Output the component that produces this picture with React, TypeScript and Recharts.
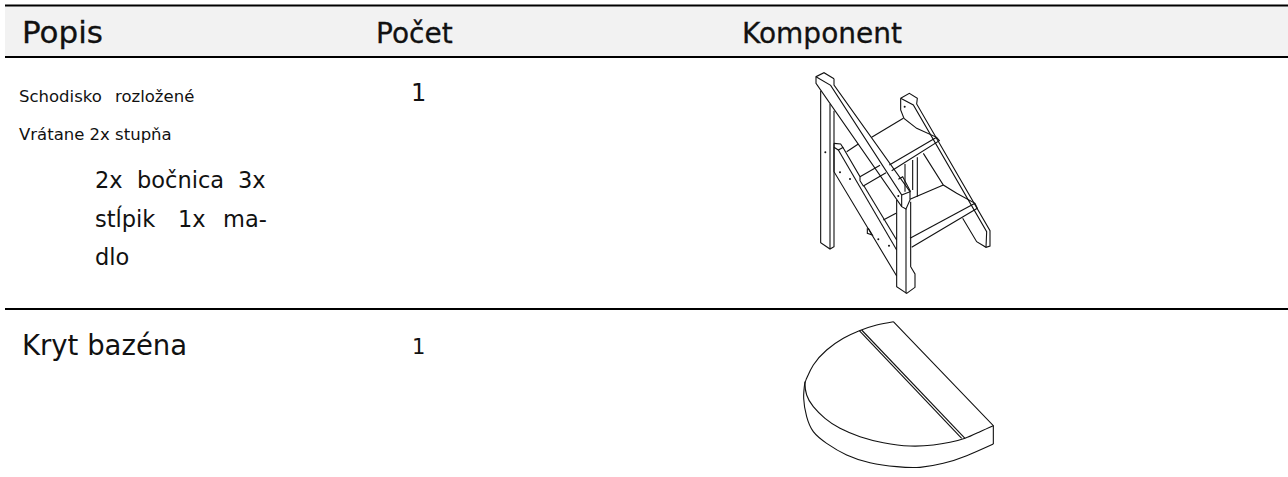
/**
 * Parts table: header band, two rows, two isometric line drawings.
 * Everything sits in hidden-axis charts so the marks go through the scales.
 */
import { ComposedChart, Line, Scatter, XAxis, YAxis, ReferenceLine, ReferenceArea } from "recharts";

type Pt = [number, number];
type Lbl = { x: number; y: number; text: string };

// table text, baseline positions
const popisLabel: Lbl[] = [{ x: 22, y: 43, text: "Popis" }];
const headerLabels: Lbl[] = [
  { x: 376, y: 43, text: "Počet" },
  { x: 742, y: 43, text: "Komponent" },
];
const smallLabels: Lbl[] = [
  { x: 19, y: 102, text: "Schodisko" },
  { x: 115, y: 102, text: "rozložené" },
  { x: 19, y: 140, text: "Vrátane 2x stupňa" },
];
const bodyLabels: Lbl[] = [
  { x: 95, y: 188, text: "2x" },
  { x: 137, y: 188, text: "bočnica" },
  { x: 238, y: 188, text: "3x" },
  { x: 95, y: 227, text: "stĺpik" },
  { x: 178, y: 227, text: "1x" },
  { x: 223, y: 227, text: "ma-" },
  { x: 95, y: 265, text: "dlo" },
];
const firstCount: Lbl[] = [{ x: 411, y: 101, text: "1" }];
const secondCount: Lbl[] = [{ x: 412, y: 354, text: "1" }];
const rowTitle: Lbl[] = [{ x: 22, y: 355, text: "Kryt bazéna" }];

const ruleRows = [5.5, 57, 309];
const headerBand = [6, 56];

// stairs, in 1/3 px units of its own box
const stairLines: Pt[][] = [
  [[222, 56], [192, 38], [168, 50], [168, 70], [425, 440], [438, 447], [450, 420], [450, 395], [222, 75], [222, 56]],
  [[168, 50], [212, 76], [425, 405], [425, 440]],
  [[425, 405], [450, 395]],
  [[415, 358], [428, 350], [452, 395]],
  [[182, 92], [182, 548], [210, 567], [222, 560], [222, 152]],
  [[210, 132], [210, 567]],
  [[410, 420], [410, 680], [440, 700], [465, 682], [465, 642], [452, 620], [452, 425]],
  [[438, 447], [438, 700]],
  [[222, 250], [242, 252], [252, 268], [300, 350], [300, 362], [310, 378], [378, 338]],
  [[300, 350], [360, 316]],
  [[222, 250], [222, 335], [410, 648]],
  [[235, 270], [410, 570]],
  [[222, 262], [235, 270], [250, 262]],
  [[312, 378], [410, 540]],
  [[260, 275], [295, 252]],
  [[335, 232], [430, 175]],
  [[422, 115], [448, 100], [472, 115], [470, 132], [690, 512], [690, 558], [678, 562], [650, 545], [608, 475]],
  [[422, 115], [460, 135], [680, 515], [678, 562]],
  [[422, 115], [422, 150], [432, 175], [470, 205], [530, 232], [538, 242], [395, 332]],
  [[530, 232], [388, 315]],
  [[490, 280], [550, 375], [590, 400], [645, 430], [652, 445], [455, 562]],
  [[645, 430], [450, 535]],
  [[450, 418], [550, 375]],
  [[370, 480], [408, 460]],
  [[435, 312], [435, 395]],
  [[458, 300], [458, 390]],
  [[472, 292], [472, 410]],
  [[322, 505], [322, 520], [337, 525], [325, 505]],
];
const stairDots: Pt[] = [[196, 277], [240, 337], [270, 357], [434, 140], [415, 408], [355, 538], [387, 557]];

// pool cover, same idea
const coverArcs: Pt[][] = [
  [[340, 35], [290, 45], [238, 62], [190, 85], [140, 120], [100, 165], [80, 205], [75, 222], [80, 255], [100, 290], [135, 325], [180, 355], [240, 380], [310, 398], [390, 408], [460, 405], [510, 397], [555, 385], [600, 365], [640, 347]],
  [[75, 215], [71, 265], [80, 320], [100, 365], [140, 400], [200, 435], [270, 458], [350, 470], [420, 472], [490, 460], [560, 437], [640, 402]],
];
const coverLines: Pt[][] = [
  [[340, 35], [640, 347], [640, 402]],
  [[238, 62], [545, 385]],
  [[245, 60], [555, 385]],
];

const toPts = (l: Pt[]) => l.map(([x, y]) => ({ x, y }));
const FONT = "'DejaVu Sans', sans-serif";
const INK = "#111";

function textShape(fontSize: number, extra: Record<string, unknown> = {}) {
  return (p: any) => (
    <text x={p.cx} y={p.cy} fontSize={fontSize} fontFamily={FONT} fill={INK} {...extra}>
      {p.payload.text}
    </text>
  );
}

function Drawing({ left, top, w, h, lines, arcs = [], dots }: { left: number; top: number; w: number; h: number; lines: Pt[][]; arcs?: Pt[][]; dots?: Pt[] }) {
  return (
    <div style={{ position: "absolute", left, top }}>
      <ComposedChart width={w} height={h} margin={{ top: 0, right: 0, bottom: 0, left: 0 }}>
        <XAxis hide type="number" dataKey="x" domain={[0, w * 3]} />
        <YAxis hide type="number" dataKey="y" domain={[0, h * 3]} reversed />
        {lines.map((l, i) => (
          <Line key={i} data={toPts(l)} dataKey="y" type="linear" stroke={INK} strokeWidth={1.1} dot={false} isAnimationActive={false} />
        ))}
        {arcs.map((l, i) => (
          <Line key={"a" + i} data={toPts(l)} dataKey="y" type="natural" stroke={INK} strokeWidth={1.1} dot={false} isAnimationActive={false} />
        ))}
        {dots && (
          <Scatter data={toPts(dots)} isAnimationActive={false}
            shape={(p: any) => <circle cx={p.cx} cy={p.cy} r={1} fill={INK} />} />
        )}
      </ComposedChart>
    </div>
  );
}

export default function App() {
  return (
    <div style={{ position: "absolute", left: 0, top: 0, width: 1288, height: 477, background: "#fff" }}>
      <ComposedChart width={1288} height={477} margin={{ top: 0, right: 0, bottom: 0, left: 0 }}>
        <XAxis hide type="number" dataKey="x" domain={[0, 1288]} />
        <YAxis hide type="number" dataKey="y" domain={[0, 477]} reversed />
        <ReferenceArea x1={5} x2={1288} y1={headerBand[0]} y2={headerBand[1]} fill="#f2f2f2" fillOpacity={1} stroke="none" />
        {ruleRows.map((y) => (
          <ReferenceLine key={y} segment={[{ x: 5, y }, { x: 1288, y }]} stroke="#000" strokeWidth={2} />
        ))}
        <Scatter data={popisLabel} isAnimationActive={false} shape={textShape(31, { stroke: INK, strokeWidth: 0.3 })} />
        <Scatter data={headerLabels} isAnimationActive={false} shape={textShape(28, { stroke: INK, strokeWidth: 0.3 })} />
        <Scatter data={smallLabels} isAnimationActive={false} shape={textShape(16.5)} />
        <Scatter data={bodyLabels} isAnimationActive={false} shape={textShape(22.5)} />
        <Scatter data={firstCount} isAnimationActive={false} shape={textShape(24)} />
        <Scatter data={secondCount} isAnimationActive={false} shape={textShape(21)} />
        <Scatter data={rowTitle} isAnimationActive={false} shape={textShape(27.5)} />
      </ComposedChart>
      <Drawing left={760} top={60} w={260} h={240} lines={stairLines} dots={stairDots} />
      <Drawing left={780} top={310} w={240} h={160} lines={coverLines} arcs={coverArcs} />
    </div>
  );
}
